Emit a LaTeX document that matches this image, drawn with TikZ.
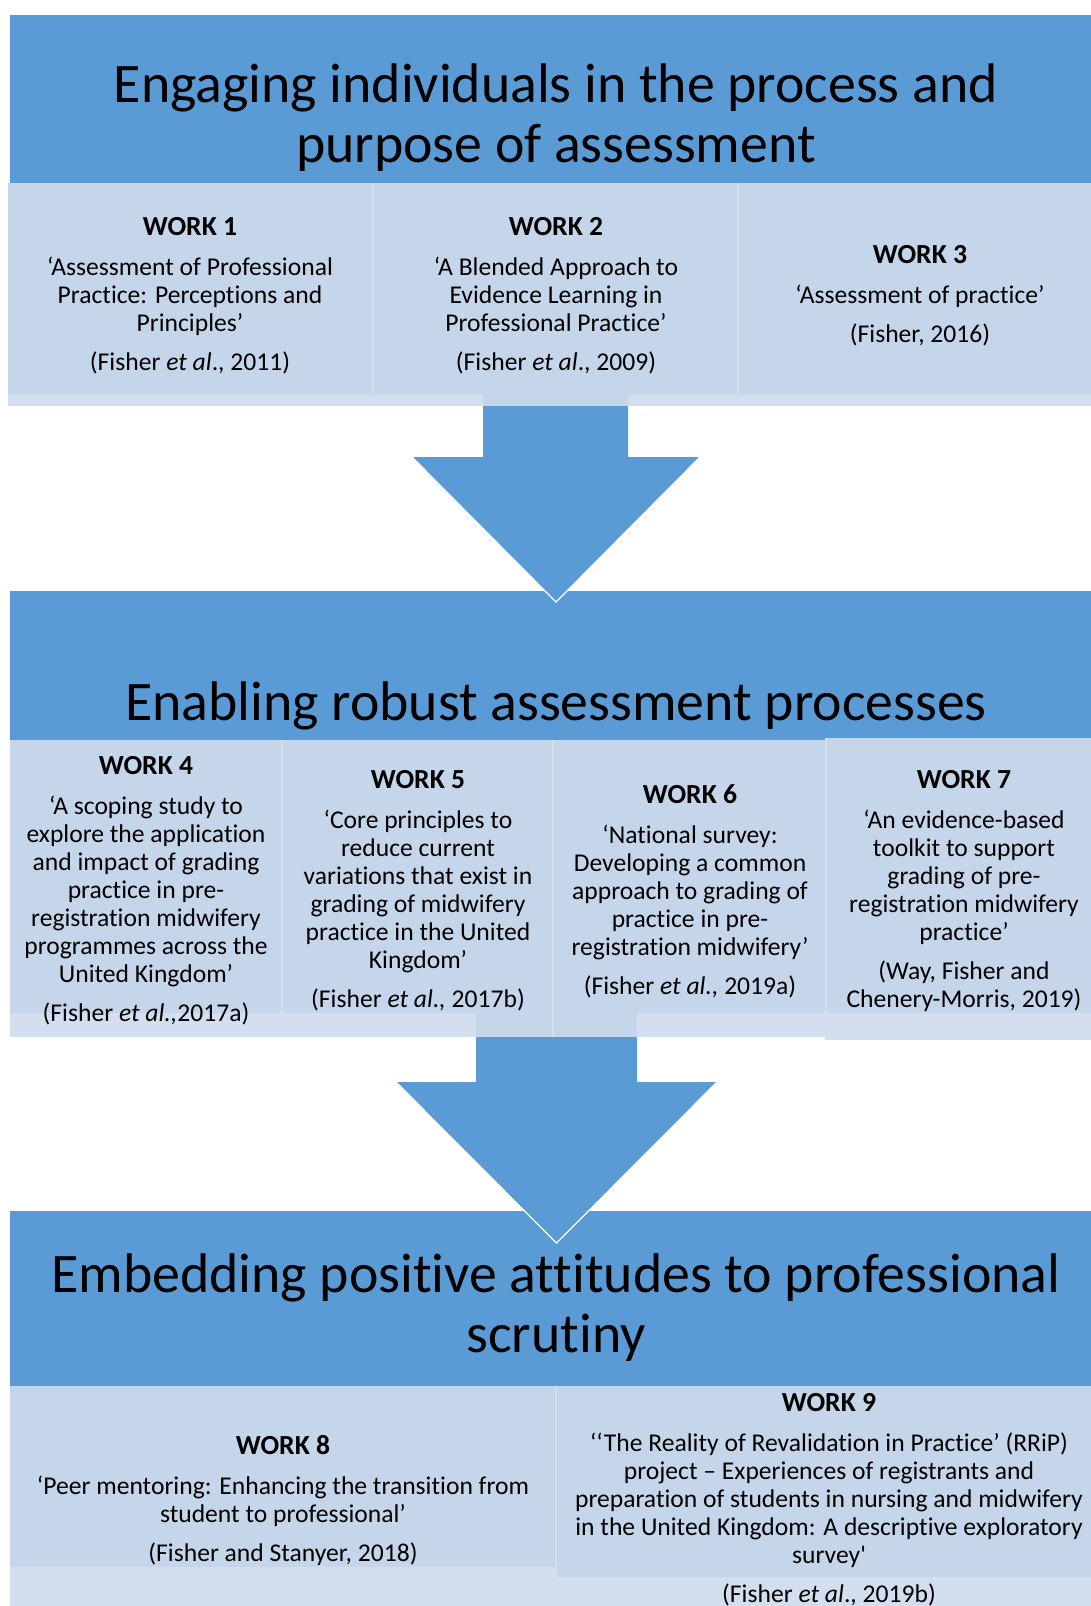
\documentclass[tikz,border=0pt]{standalone}
\usepackage{fontspec}
\setmainfont{Carlito}[Ligatures={TeXOff,CommonOff}]
\usetikzlibrary{calc}
\definecolor{bandblue}{HTML}{5B9BD5}
\definecolor{cellblue}{HTML}{C5D5EA}
\definecolor{striplight}{HTML}{D3DEEF}
\newcommand{\worktitle}[1]{{\fontsize{13.8}{14}\selectfont\bfseries #1}}

\begin{document}
\begin{tikzpicture}[x=0.5pt,y=-0.5pt,
    band/.style={fill=bandblue},
    cell/.style={fill=cellblue},
    strip/.style={fill=striplight},
    divider/.style={draw=striplight,line width=1pt},
    heading/.style={align=center,font=\fontsize{27.9}{30}\selectfont},
    work/.style={align=center,font=\fontsize{12.8}{14}\selectfont},
    tipedge/.style={draw=white,line width=0.6pt,line join=miter}]
\useasboundingbox (0,0) rectangle (1091,1606);
\clip (0,0) rectangle (1091,1606);
\fill[band] (10,15) rectangle (1102,183);
\fill[cell] (8,183) rectangle (1102,395);
\fill[strip] (8,395) rectangle (1102,406);
\fill[cell] (483,395) rectangle (628,406);
\draw[divider] (373,183) -- (373,406);
\draw[divider] (738,183) -- (738,406);
\fill[band] (10,591) rectangle (1102,740);
\fill[cell] (10,740) rectangle (826,1013);
\fill[cell] (826,738) rectangle (1102,1013);
\fill[strip] (10,1013) rectangle (826,1037);
\fill[strip] (826,1013) rectangle (1102,1040);
\fill[cell] (476,1013) rectangle (637,1037);
\draw[divider] (282,740) -- (282,1037);
\draw[divider] (553,740) -- (553,1037);
\draw[divider] (826,738) -- (826,1040);
\fill[band] (10,1211) rectangle (1102,1386);
\fill[cell] (10,1386) rectangle (1102,1606);
\fill[strip] (10,1567) rectangle (556,1606);
\fill[strip] (556,1577) rectangle (1102,1606);
\draw[divider] (556,1386) -- (556,1606);
\coordinate (tip1) at (556,602);
\coordinate (tip2) at (556.5,1243);
\fill[band] (483,406) -- (483,457) -- (412,457) -- (tip1) -- (700,457) -- (628,457) -- (628,406) -- cycle;
\draw[tipedge] (412,457) -- (tip1) -- (700,457);
\fill[band] (476,1037) -- (476,1082) -- (396,1082) -- (tip2) -- (717,1082) -- (637,1082) -- (637,1037) -- cycle;
\draw[tipedge] (396,1082) -- (tip2) -- (717,1082);
\node[heading] (engage) at (556,117.5) {Engaging individuals in the process and\\purpose of assessment};
\node[heading] (enable) at (556,706) {Enabling robust assessment processes};
\node[heading] (embed) at (556,1308) {Embedding positive attitudes to professional\\scrutiny};
\node[work] (work1) at (190,295.5) {\worktitle{WORK 1}\\[6pt]‘Assessment of Professional\\Practice: Perceptions and\\Principles’\\[5.5pt](Fisher \textit{et al}., 2011)};
\node[work] (work2) at (556,295.5) {\worktitle{WORK 2}\\[6pt]‘A Blended Approach to\\Evidence Learning in\\Professional Practice’\\[5.5pt](Fisher \textit{et al}., 2009)};
\node[work] (work3) at (920,295.5) {\worktitle{WORK 3}\\[6pt]‘Assessment of practice’\\[5.5pt](Fisher, 2016)};
\node[work] (work4) at (146,891) {\worktitle{WORK 4}\\[6pt]‘A scoping study to\\explore the application\\and impact of grading\\practice in pre-\\registration midwifery\\programmes across the\\United Kingdom’\\[5.5pt](Fisher \textit{et al.,}2017a)};
\node[work] (work5) at (418,891) {\worktitle{WORK 5}\\[6pt]‘Core principles to\\reduce current\\variations that exist in\\grading of midwifery\\practice in the United\\Kingdom’\\[5.5pt](Fisher \textit{et al.,} 2017b)};
\node[work] (work6) at (690,891) {\worktitle{WORK 6}\\[6pt]‘National survey:\\Developing a common\\approach to grading of\\practice in pre-\\registration midwifery’\\[5.5pt](Fisher \textit{et al.,} 2019a)};
\node[work] (work7) at (964,891) {\worktitle{WORK 7}\\[6pt]‘An evidence-based\\toolkit to support\\grading of pre-\\registration midwifery\\practice’\\[5.5pt](Way, Fisher and\\Chenery-Morris, 2019)};
\node[work] (work8) at (283,1501) {\worktitle{WORK 8}\\[6pt]‘Peer mentoring: Enhancing the transition from\\student to professional’\\[5.5pt](Fisher and Stanyer, 2018)};
\node[work] (work9) at (829,1500) {\worktitle{WORK 9}\\[6pt]‘‘The Reality of Revalidation in Practice’ (RRiP)\\project – Experiences of registrants and\\preparation of students in nursing and midwifery\\in the United Kingdom: A descriptive exploratory\\survey'\\[5.5pt](Fisher \textit{et al}., 2019b)};
\end{tikzpicture}
\end{document}
